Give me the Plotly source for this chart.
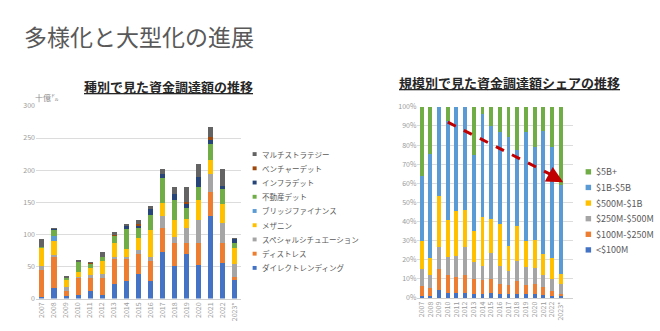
import plotly.graph_objects as go

W, H = 660, 331
FONT = "Noto Sans CJK JP"

years = ["2007", "2008", "2009", "2010", "2011", "2012", "2013", "2014", "2015",
         "2016", "2017", "2018", "2019", "2020", "2021", "2022", "2023*"]

# Left chart: fundraising by strategy (billion USD)
direct_lending = [3, 16, 4, 6, 12, 5, 23, 27, 38, 28, 73, 51, 69, 53, 128, 55, 30]
distressed     = [42, 49, 8, 27, 21, 27, 39, 35, 31, 30, 37, 35, 17, 33, 38, 32, 3]
special_sit    = [5, 3, 6, 1, 3, 6, 2, 3, 7, 7, 18, 10, 24, 36, 28, 30, 21]
mezzanine      = [29, 22, 12, 8, 11, 20, 23, 12, 19, 41, 21, 27, 14, 31, 21, 30, 25]
bridge         = [0, 8, 0, 0, 0, 0, 0, 0, 0, 0, 0, 0, 0, 0, 0, 0, 0]
real_estate    = [2, 10, 3, 16, 8, 7, 12, 31, 15, 24, 39, 31, 17, 20, 26, 24, 8]
infra          = [0, 1, 0, 0, 0, 0, 0, 6, 4, 10, 6, 9, 7, 17, 7, 5, 6]
venture        = [0, 0, 0, 0, 1, 0, 1, 0, 2, 0, 0, 0, 3, 0, 3, 0, 0]
multi_strategy = [11, 1, 1, 1, 1, 7, 3, 2, 7, 4, 7, 11, 22, 19, 16, 25, 1]

left_names = ["ダイレクトレンディング", "ディストレス", "スペシャルシチュエーション", "メザニン",
              "ブリッジファイナンス", "不動産デット", "インフラデット", "ベンチャーデット",
              "マルチストラテジー"]
left_colors = ["#4472C4", "#ED7D31", "#A5A5A5", "#FFC000", "#5B9BD5", "#70AD47",
               "#264478", "#9E480E", "#636363"]
left_series = [direct_lending, distressed, special_sit, mezzanine, bridge, real_estate,
               infra, venture, multi_strategy]

# Right chart: share by fund size (%)
lt100m    = [1.2, 1.0, 3.9, 2.5, 2.7, 2.7, 2.2, 2.2, 2.5, 1.9, 1.9, 1.9, 1.9, 2.2, 1.4, 1.0, 0.8]
m100_250  = [4.9, 4.2, 11.0, 9.3, 8.3, 9.3, 7.6, 7.3, 7.3, 5.4, 4.9, 7.1, 4.9, 5.1, 4.5, 2.5, 1.4]
m250_500  = [8.8, 6.8, 11.6, 9.5, 11.1, 14.5, 9.0, 7.1, 13.5, 9.3, 7.2, 10.1, 9.3, 8.1, 5.9, 6.3, 5.1]
m500_1b   = [14.7, 9.1, 26.9, 19.4, 23.2, 19.6, 16.0, 25.8, 18.1, 21.9, 13.2, 18.6, 13.5, 15.1, 11.2, 11.0, 5.0]
b1_5      = [34.4, 54.2, 46.6, 52.0, 54.7, 53.9, 40.2, 53.6, 48.6, 48.3, 57.1, 39.8, 57.2, 48.7, 64.6, 58.4, 46.7]
b5plus    = [36.0, 24.7, 0.0, 7.3, 0.0, 0.0, 25.0, 4.0, 10.0, 13.2, 15.7, 22.5, 13.2, 20.8, 12.4, 20.8, 41.0]

right_names = ["<$100M", "$100M-$250M", "$250M-$500M", "$500M-$1B", "$1B-$5B", "$5B+"]
right_colors = ["#4472C4", "#ED7D31", "#A5A5A5", "#FFC000", "#5B9BD5", "#70AD47"]
right_series = [lt100m, m100_250, m250_500, m500_1b, b1_5, b5plus]


def px(x):
    return x / W


def py(y):
    return 1 - y / H


fig = go.Figure()

for name, col, vals in zip(left_names, left_colors, left_series):
    fig.add_trace(go.Bar(x=years, y=vals, name=name, marker_color=col, width=0.42,
                         marker_line_width=0, xaxis="x", yaxis="y", showlegend=False))

for name, col, vals in zip(right_names, right_colors, right_series):
    fig.add_trace(go.Bar(x=years, y=vals, name=name, marker_color=col, width=0.45,
                         marker_line_width=0, xaxis="x2", yaxis="y2", showlegend=False))

tickfont = dict(family=FONT, size=7, color="#9A9A9A")
grid = "#DCDCDC"

fig.update_layout(
    width=W, height=H,
    margin=dict(l=0, r=0, t=0, b=0),
    paper_bgcolor="white", plot_bgcolor="white",
    barmode="stack",
    hovermode=False,
    font=dict(family=FONT, color="#595959"),
    xaxis=dict(domain=[px(35), px(240)], type="category", tickangle=-90, tickfont=tickfont,
               showline=True, linecolor="#D0D0D0", linewidth=1, ticks="", showgrid=False,
               anchor="y"),
    yaxis=dict(domain=[py(301.7), py(103)], range=[0, 300], dtick=50, tickfont=tickfont,
               showgrid=True, gridcolor=grid, gridwidth=1, zeroline=False, ticks="",
               anchor="x"),
    xaxis2=dict(domain=[px(417), px(573)], type="category", tickangle=-90, tickfont=tickfont,
                showline=True, linecolor="#D0D0D0", linewidth=1, ticks="", showgrid=False,
                anchor="y2"),
    yaxis2=dict(domain=[py(301), py(104)], range=[0, 100], dtick=10, ticksuffix="%",
                tickfont=tickfont, showgrid=True, gridcolor=grid, gridwidth=1,
                zeroline=False, ticks="", anchor="x2"),
)

ann = []
# Main title
ann.append(dict(text="多様化と大型化の進展", x=px(21), y=py(31), xref="paper", yref="paper",
                xanchor="left", yanchor="middle", showarrow=False,
                font=dict(family=FONT, size=23, color="#595959")))
# Subtitles
ann.append(dict(text="<u><b>種別で見た資金調達額の推移</b></u>", x=px(167.5), y=py(83),
                xref="paper", yref="paper", xanchor="center", yanchor="middle",
                showarrow=False, font=dict(family=FONT, size=13, color="#262626")))
ann.append(dict(text="<u><b>規模別で見た資金調達額シェアの推移</b></u>", x=px(509.5), y=py(79),
                xref="paper", yref="paper", xanchor="center", yanchor="middle",
                showarrow=False, font=dict(family=FONT, size=13, color="#262626")))
# Unit label
ann.append(dict(text="十億㌦", x=px(32), y=py(94.5), xref="paper", yref="paper",
                xanchor="left", yanchor="middle", showarrow=False,
                font=dict(family=FONT, size=8, color="#8C8C8C")))

shapes = []
# Left manual legend (top-down order)
for k, idx in enumerate(range(len(left_names) - 1, -1, -1)):
    yc = 152.7 + k * 14.67
    shapes.append(dict(type="rect", xref="paper", yref="paper",
                       x0=px(252), x1=px(256), y0=py(yc + 2), y1=py(yc - 2),
                       fillcolor=left_colors[idx], line_width=0))
    ann.append(dict(text=left_names[idx], x=px(259), y=py(yc), xref="paper", yref="paper",
                    xanchor="left", yanchor="middle", showarrow=False,
                    font=dict(family=FONT, size=7.5, color="#595959")))

# Right manual legend
for k, idx in enumerate(range(len(right_names) - 1, -1, -1)):
    yc = 171 + k * 16.1
    shapes.append(dict(type="rect", xref="paper", yref="paper",
                       x0=px(585.5), x1=px(591), y0=py(yc + 2.75), y1=py(yc - 2.75),
                       fillcolor=right_colors[idx], line_width=0))
    ann.append(dict(text=right_names[idx], x=px(593.5), y=py(yc), xref="paper", yref="paper",
                    xanchor="left", yanchor="middle", showarrow=False,
                    font=dict(family=FONT, size=9, color="#595959")))

# Trend arrow on right chart
shapes.append(dict(type="line", xref="x2", yref="y2", x0=3, y0=92, x1=15.9, y1=62.2,
                   line=dict(color="#C00000", width=3, dash="dash")))
ann.append(dict(x=16.3, y=60.6, ax=15.5, ay=62.6, xref="x2", yref="y2", axref="x2",
                ayref="y2", showarrow=True, arrowhead=2, arrowsize=1.1, arrowwidth=3,
                arrowcolor="#C00000", text=""))

fig.update_layout(annotations=ann, shapes=shapes)

fig.write_html("out.html")
